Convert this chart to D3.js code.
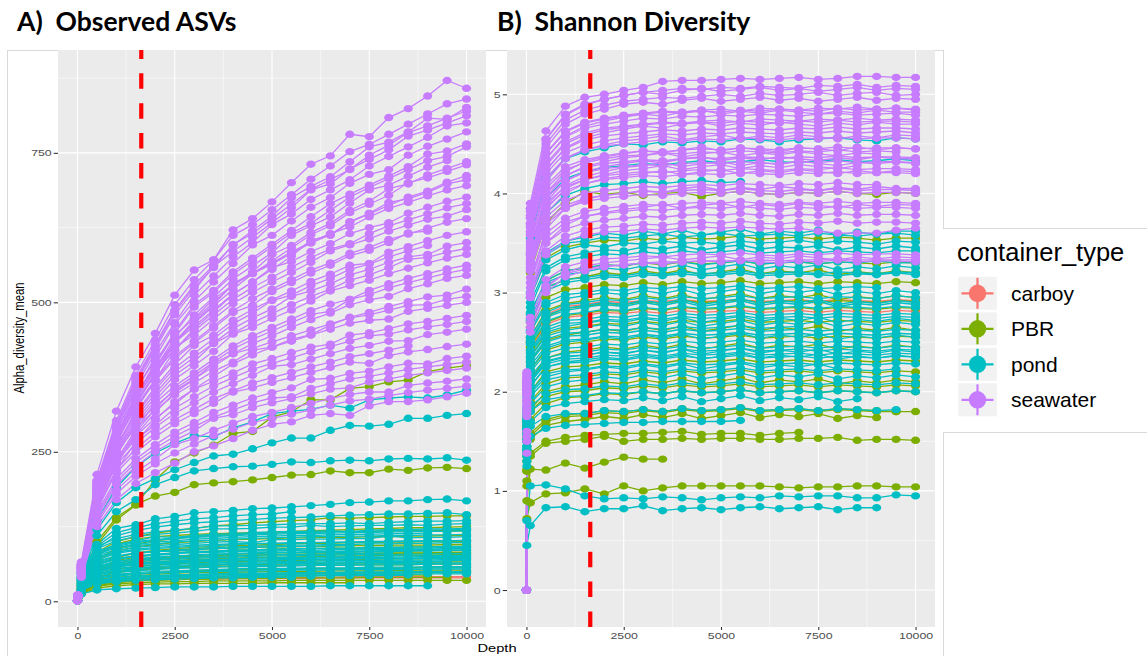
<!DOCTYPE html>
<html>
<head>
<meta charset="utf-8">
<script src="https://cdn.jsdelivr.net/npm/d3@7"></script>
<style>
  body { margin: 0; background: #fff; }
  svg { display: block; font-family: "Liberation Sans", Arial, sans-serif; }
</style>
</head>
<body>
<svg id="chart" width="1147" height="656"></svg>
<script>
// rarefaction depths (reads per sample)
const depths = [1, 10, 100, 500, 1000, 1500, 2000, 2500, 3000, 3500, 4000, 4500, 5000, 5500, 6000, 6500, 7000, 7500, 8000, 8500, 9000, 9500, 10000];
const containerTypes = ["carboy", "PBR", "pond", "seawater"];
const typeColours = ["#F8766D", "#7CAE00", "#00BFC4", "#C77CFF"];
const rarefyCut = 1640;
const xTicks = [0, 2500, 5000, 7500, 10000];
const xMinor = [1250, 3750, 6250, 8750];
const observedTicks = [0, 250, 500, 750];
const observedMinor = [125, 375, 625, 875];
const shannonTicks = [0, 1, 2, 3, 4, 5];
const shannonMinor = [0.5, 1.5, 2.5, 3.5, 4.5];

// Observed ASVs, mean per depth, one row per sample
const carboyObserved = [
  [1,7,20,33,36,37,38,38,39,39,39,40,40,40,40,40,41,41,41,41,41,41,41],
  [1,7,19,31,34,35,36,37,37,37,38,38,38,38,38,39,39,39,39,39,39,39,39]
];
const pbrObserved = [
  [1,9,38,95,136,161,203,233,248,261,281,284,308,317,337,337,356,359,367,370,384,390,394],
  [1,9,36,100,140,162,176,182,195,198,200,203,207,211,212,218,215,215,221,219,223,224,222],
  [1,9,34,82,100,108,114,118,122,126,128,131,133,135,136,140,139,140,141,142,142,143,143],
  [1,8,30,70,88,96,101,105,108,110,112,114,115,117,118,119,120,121,122,123,123,124,125],
  [1,8,28,60,74,81,85,88,90,92,93,94,95,96,97,97,98,98,99,99,100,100,100],
  [1,8,26,55,68,74,78,81,83,84,85,86,87,88,88,89,89,90,90,91,91,92,92],
  [1,8,25,52,63,69,72,75,77,78,79,80,81,81,82,82,83,83,84,84,85,85,85],
  [1,8,23,48,58,63,66,68,70,71,72,73,74,74,75,75,76,76,77,77,77,78,78],
  [1,7,22,44,54,58,61,63,64,66,66,67,68,68,69,69,70,70,71,71,71,72,72],
  [1,7,20,40,49,53,56,58,59,60,61,61,62,62,63,63,64,64,64,65,65,66,66],
  [1,7,18,35,43,46,48,50,51,52,53,53,54,54,55,55,55,56,56,56,57,57,57],
  [1,7,16,30,37,40,42,43,44,44,45,45,46,46,46,47,47,47,47,48,48,48,48],
  [1,6,14,26,31,34,35,36,37,37,38,38,38,39,39,39,39,40,40,40,40,40],
  [1,6,13,22,26,28,29,29,30,30,30,30,31,31,31,31,31],
  [1,6,14,25,29,31,32,33,33,34,34,34,34,35,35,35,35,35,35,35,35,35,35],
  [1,6,15,28,33,35,36,37,37,38],
  [1,8,24,50,60,66,69,72,74,75,76,77,78,78,79,79,80,80,81,81,81,82,82],
  [1,8,30,68,84,91,95,98,100,102,103,104,105,106,106,107,107,108,108,109,109,110,110],
  [1,8,30,62,74,80,83,85,87,88,89,90,91,91,92,92,93,93,94,94,94,95,95],
  [1,8,26,54,64,69,72,74,75,76,77,77,78,78,79,79,79,80,80,80,80,80,80],
  [1,7,20,40,48,52,54,56,57,58,58,59,59,60,60,60,61,61,61,61,62,62,62],
  [1,7,17,33,40,43,45,47,48,48,49,49,50,50,50,51,51,51,51,52,52,52,52],
  [1,9,34,78,96,104,108,110,112,113,114,115,115,116,116,117,117,117,118,118,118,118,118],
  [1,6,15,28,34,37,38,39,40,41,41,42,42,42,43,43,43,43,44,44,44]
];
const pondObserved = [
  [1,9,48,135,190,225,248,264,277,275,290,300,314,318,321,328,323,337,340,342,340,345,353],
  [1,9,42,120,165,190,205,220,232,243,246,255,265,273,273,286,294,293,296,306,306,311,314],
  [1,9,40,110,150,170,195,207,218,222,225,226,229,233,232,235,236,235,238,239,238,240,236],
  [1,9,38,95,122,128,138,142,148,150,152,155,156,158,160,162,165,166,168,168,170,171,168],
  [1,9,36,88,110,118,124,128,131,133,135,137,139,140,141,143,144,145,146,146,147,148,145],
  [1,9,38,92,115,123,130,134,138,140,143,145,146,150],
  [1,9,52,88,101,108,112,114,117,121,121,122,124,124,127,125,126,127,127,128,127,129,130],
  [1,9,49,83,95,101,108,107,110,112,113,115,116,117,117,118,116,119,120,120,121,121,122],
  [1,9,46,78,90,95,99,101,104,105,107,108,109,110,110,111,112,112,113,113,114],
  [1,9,43,73,84,90,93,95,97,99,100,98,103,103,104,104,105,105,109,106,107,107,108],
  [1,9,41,69,80,85,88,90,92,93,95,96,97,97,98,98,99,99,100,100,101,101,102],
  [1,8,38,65,75,80,83,84,86,88,89,90,91,92,92,93,93],
  [1,8,36,61,70,75,77,79,84,82,84,85,86,86,89,87,87,88,88,89,89,90,90],
  [1,8,34,58,66,71,73,75,77,78,79,80,81,81,82,82,82,83,83,84,84,85,85],
  [1,8,32,54,62,66,69,70,72,73,74,75,76,76,77,77,78,78,78,79,79,80,80],
  [1,8,30,51,58,62,64,66,68,69,70,71,71,72,72,73,73,73,74,74,75,75,75],
  [1,8,28,48,55,58,60,62,63,64,65,66,66,67,67,68,68,68,69,69,69,70,70],
  [1,8,27,45,51,55,57,58,60,61,62,62,63,63,64,64,64,65,65,65,66,66],
  [1,8,25,42,48,51,53,55,56,57,58,58,59,59,60,60,60,61,61,61,62,62,62],
  [1,8,24,40,45,48,50,51,52,53,54,55,55,55,56,56,56,57,57,57,58,58,58],
  [1,7,22,37,42,45,47,48,49,50,50,51,51,52,52,52,53,53,53,53,54,54,54],
  [1,7,21,34,39,42,43,44,45,46,47,47,47,48,48,48,49,49,49,49,50,50],
  [1,7,19,31,36,38,40,41,42,42,43,43,44,44,44,44,45,45,45,45,46,46,46],
  [1,7,18,29,33,35,36,37,38,39,39,40,40,40],
  [1,7,20,34,39,42,43,44,45,45,46,46,47,47,47,48,48,48,48,49,49,49,50],
  [1,6,12,19,21,22,23,24,24,24,25,25,25,25,25,26,26,26,26,26,26],
  [1,9,40,72,82,87,90,92,94,95,96,97,97,98,98,99,99,100,100,101,101,101,102],
  [1,8,35,62,71,75,78,80,81,82,83,84,84,85,85,86,86,86,87,87,87,88,88],
  [1,8,29,51,58,62,64,66,67,68,68,69,69,70,70,70,71,71,71,71,72,72,72],
  [1,9,47,80,92,98,102,105,107,108,110,111,112,113,113,114,115,115,116,116,117,117,118],
  [1,9,54,92,105,112,116,119,122,126,126,127,128,129,130,130,131,130,132,133,134,134,135],
  [1,9,45,76,87,93,96,99,101,102,104,105,106,107,108,108,109,109,110,110,111,111,112],
  [1,9,39,67,76,81,84,86,88,90,91,92,93,94,94,95,95,96,96,97,97,98,98],
  [1,8,37,63,72,76,79,81,83,84,86,86,87,88,88,89,89,90,90,91,91,92,92],
  [1,8,34,58,67,71,74,76,77,79,80,81,82,82,83,83,84,84,85,85,86,86,86],
  [1,8,33,56,64,68,71,72,74,75,76,77,78,78,79,79,80,80,81],
  [1,8,31,52,60,64,66,68,69,70,71,72,73,73,74,74,75,75,76,76,76,77,77],
  [1,8,29,50,57,61,63,64,66,67,68,69,69,70,70,71,71,72,72,72,73,73,73],
  [1,8,27,46,53,56,58,60,61,62,63,64,64,65,65,66,66,66,67,67,67,68,68],
  [1,8,26,44,50,53,55,56,57,58,59,60,60,61,61,62,62,62,63,63,63,64,64],
  [1,7,22,38,44,46,48,49,50,51,52,52,53,53,54,54,54,55,55,55,56,56,56],
  [1,7,19,33,37,40,41,42,43,44,45,45,45,46,46,46,47,47,47,47,48,48,48],
  [1,7,18,30,34,37,38,39,40,40,41,41,42,42,42,43,43,43,43,44],
  [1,9,48,82,94,100,103,106,108,110,111,113,114,115,115,116,117,117,118,119,119,120,120]
];
const seawaterObserved = [
  [1,10,66,212,318,392,448,512,554,571,621,640,668,700,731,745,781,777,809,824,845,871,858],
  [1,10,63,202,302,378,437,496,538,571,612,630,655,680,706,728,752,764,781,798,815,832,840],
  [1,10,62,198,297,372,430,487,529,562,595,620,644,675,694,710,735,760,768,785,808,806,826],
  [1,10,61,195,292,365,422,479,520,560,585,609,633,658,688,698,723,739,755,778,788,800,812],
  [1,10,60,192,288,360,416,466,512,544,576,600,630,648,672,688,705,728,744,760,776,795,800],
  [1,10,59,188,283,353,408,463,502,534,565,596,612,636,659,675,699,714,722,746,761,773,785],
  [1,10,57,184,275,344,398,451,496,520,551,574,597,620,643,665,681,696,711,727,748,753,765],
  [1,10,56,180,269,337,389,441,479,509,539,561,583,612,628,643,666,688,696,711,726,737],
  [1,10,55,175,263,329,380,431,467,496,532,548,569,591,613,628,650,664,679,700,708,719,730],
  [1,10,53,171,256,320,370,420,456,484,513,534,555,577,604,612,634,648,662,676,686,701,712],
  [1,10,63,202,292,354,403,445,473,506,528,549,566,584,601,615,626,643,657,667,678,688,695],
  [1,10,61,196,284,345,392,433,460,487,514,534,558,568,585,598,615,625,633,649,659,669,676],
  [1,10,59,190,275,334,380,425,445,472,498,517,534,550,567,586,596,606,619,629,639,644,655],
  [1,10,57,184,267,324,368,406,432,457,483,495,518,533,549,562,578,587,600,616,619],
  [1,9,56,179,260,315,358,396,428,445,470,488,504,519,535,547,562,565,584,593,603,612,618],
  [1,9,54,174,252,306,348,384,408,432,456,474,489,510,519,531,546,555,567,576,580,594,600],
  [1,9,52,168,244,296,336,371,394,418,447,458,473,487,502,519,528,537,548,557,566,574,580],
  [1,9,51,163,236,287,332,360,382,405,427,444,458,472,486,497,505,520,531,540,548,556,562],
  [1,9,49,158,229,278,316,349,371,398,414,431,444,458,471,482,496,504,510,523,531,540,545],
  [1,9,47,151,219,266,303,334,355,376,397,412,425,438,446,462,475,483,493,501,509,512,522],
  [1,9,60,180,250,290,320,345,365,385,400,420,425,435,445,455,465,470,472,485,490,495,500],
  [1,9,57,172,239,277,306,330,355,368,382,397,406,416,425,430,445,449,456,464,468,473,478],
  [1,9,55,164,228,264,291,314,332,350,364,378,393,396,405,414,423,428,435,436,446,450,455],
  [1,9,52,155,215,249,275,297,314,331,350,357,366,374,383,391,400,398,411,417,421,426,430],
  [1,9,49,148,205,238,262,283,299,316,328,340,349,357,371,373,381,385,392,398,397,406,410],
  [1,8,47,140,195,226,250,269,285,306,312,324,332,339,347,355,357,367,372,378,382,386,390],
  [1,8,45,134,186,216,238,262,272,286,298,309,316,324,331,339,346,350,350,361,365,368,372],
  [1,8,40,125,170,197,215,231,250,260,272,286,296,300,311,314,311,327,334,334,337,342,348],
  [1,10,62,197,295,369,426,484,525,558,597,615,640,664,689,705,722,746,763,784,795,808,820],
  [1,10,57,182,274,342,395,448,492,517,547,570,593,616,632,654,676,692,707,722,737,744,760],
  [1,10,58,187,275,338,388,434,465,494,522,548,564,582,599,613,635,649,667,673,684,698,705],
  [1,10,60,193,279,339,386,420,452,479,505,525,542,559,575,589,598,615,628,638,648,658,665],
  [1,9,55,177,256,311,354,390,415,439,464,482,503,512,528,540,555,564,576,586,595],
  [1,9,53,171,248,301,342,378,401,431,448,466,481,496,510,522,537,546,558,572,575,584,590],
  [1,9,50,161,233,283,322,355,377,400,422,438,452,466,480,485,505,513,524,533,541,549,555],
  [1,9,61,184,255,296,326,352,372,393,414,423,434,444,454,464,474,479,487,495,496,505,510],
  [1,9,56,168,234,271,295,323,342,360,374,388,398,407,417,426,435,444,447,454,459,463,468],
  [1,9,53,158,220,255,282,304,321,339,352,365,374,383,392,400,409,414,420,427],
  [1,8,48,144,200,232,256,276,292,308,320,332,340,342,356,364,372,376,382,388,392,396,400],
  [1,8,43,130,180,209,230,248,263,277,288,299,306,313,320,328,335,338,344,349,353,356,360],
  [1,10,55,176,265,331,382,434,470,500,529,551,580,595,617,632,654,669,690,698,713,724,735],
  [1,10,58,186,269,326,371,410,435,461,486,506,522,538,554,566,582,592,605,614,624,634,640]
];

// Shannon diversity, mean per depth, same samples in the same order
const carboyShannon = [
  [0,1.65,2.5,2.78,2.86,2.88,2.91,2.9,2.92,2.91,2.93,2.91,2.92,2.93,2.91,2.92,2.93,2.91,2.93,2.92,2.91,2.93,2.92],
  [0,1.6,2.42,2.68,2.75,2.77,2.8,2.79,2.81,2.79,2.82,2.8,2.81,2.82,2.8,2.81,2.82,2.8,2.82,2.81,2.8,2.82,2.81]
];
const pbrShannon = [
  [0,1.9,3.2,3.7,3.9,4.02,3.99,4.01,3.98,4.0,4.01,3.97,4.0,4.02,4.0,3.99,4.01,4.0,4.02,4.0,3.99,4.01,4.0],
  [0,1.82,2.95,3.35,3.46,3.5,3.53,3.52,3.55,3.53,3.56,3.54,3.55,3.57,3.54,3.55,3.56,3.54,3.56,3.55,3.53,3.55,3.55],
  [0,1.7,2.65,2.95,3.03,3.05,3.08,3.07,3.1,3.08,3.11,3.09,3.1,3.12,3.09,3.1,3.11,3.09,3.11,3.1,3.09,3.11,3.1],
  [0,1.75,2.78,3.12,3.22,3.25,3.28,3.27,3.3,3.28,3.31,3.29,3.3,3.32,3.29,3.3,3.31,3.29,3.31,3.3,3.29,3.31,3.3],
  [0,1.65,2.5,2.76,2.84,2.86,2.89,2.88,2.91,2.89,2.92,2.9,2.91,2.93,2.9,2.91,2.92,2.9,2.92,2.91,2.9,2.92,2.91],
  [0,1.6,2.35,2.58,2.64,2.66,2.69,2.68,2.71,2.69,2.72,2.7,2.71,2.73,2.7,2.71,2.72,2.7,2.72,2.71,2.7,2.72,2.71],
  [0,1.45,2.0,2.2,2.25,2.26,2.29,2.28,2.31,2.29,2.32,2.3,2.31,2.33,2.3,2.31,2.32,2.3,2.32,2.31,2.3,2.32,2.31],
  [0,1.35,1.8,1.95,2.0,2.01,2.04,2.03,2.06,2.04,2.07,2.05,2.06,2.08,2.05,2.06,2.07,2.05,2.07,2.06,2.05,2.07,2.06],
  [0,1.3,1.72,1.88,1.94,1.95,1.98,1.97,2.0,1.98,2.01,1.99,2.0,2.02,1.99,2.0,2.01,1.99,2.01,2.0,1.99,2.01,2.0],
  [0,1.2,1.55,1.7,1.75,1.76,1.79,1.78,1.81,1.79,1.82,1.8,1.81,1.83,1.8,1.81,1.82,1.8,1.82,1.81,1.8,1.8,1.8],
  [0,1.05,1.35,1.48,1.5,1.52,1.55,1.5,1.52,1.52,1.53,1.52,1.53,1.53,1.52,1.52,1.53,1.53,1.54,1.51,1.52,1.52,1.51],
  [0,1.4,1.9,2.08,2.14,2.15,2.18,2.17,2.2,2.18,2.21,2.19,2.2,2.22,2.19,2.2,2.21,2.19,2.21,2.2,2.19,2.21,2.2],
  [0,1.22,1.58,1.72,1.77,1.78,1.81,1.8,1.82,1.8,1.83,1.81,1.82,1.84,1.81,1.82,1.83,1.81,1.83,1.82,1.81,1.8],
  [0,1.1,1.38,1.5,1.54,1.56,1.57,1.58,1.58,1.59,1.6,1.57,1.58,1.58,1.56,1.58,1.59],
  [0,0.72,0.88,0.97,0.98,1.02,0.97,1.05,1.0,1.03,1.05,1.05,1.05,1.05,1.05,1.04,1.03,1.04,1.04,1.05,1.05,1.04,1.04],
  [0,0.9,1.22,1.21,1.28,1.23,1.29,1.34,1.32,1.32],
  [0,1.55,2.22,2.42,2.48,2.5,2.53,2.52,2.55,2.53,2.56,2.54,2.55,2.57,2.54,2.55,2.56,2.54,2.56,2.55,2.54,2.56,2.55],
  [0,1.64,2.45,2.7,2.77,2.79,2.82,2.81,2.84,2.82,2.85,2.83,2.84,2.86,2.83,2.84,2.85,2.83,2.85,2.84,2.83,2.85,2.84],
  [0,1.6,2.3,2.52,2.57,2.6,2.63,2.61,2.65,2.62,2.66,2.61,2.64,2.67,2.62,2.65,2.63,2.66,2.61,2.64,2.62,2.65,2.62],
  [0,1.68,2.55,2.82,2.89,2.92,2.95,2.93,2.97,2.94,2.98,2.93,2.96,2.99,2.94,2.97,2.95,2.98,2.93,2.96,2.94,2.97,2.95],
  [0,1.52,2.12,2.34,2.4,2.42,2.45,2.43,2.47,2.44,2.48,2.43,2.46,2.49,2.44,2.47,2.45,2.48,2.43,2.46,2.44,2.47,2.45],
  [0,1.38,1.82,2.0,2.05,2.07,2.1,2.08,2.12,2.09,2.13,2.08,2.11,2.14,2.09,2.12,2.1,2.13,2.08,2.11,2.09,2.12,2.1],
  [0,1.72,2.7,3.05,3.13,3.16,3.2,3.18,3.22,3.19,3.23,3.18,3.21,3.24,3.19,3.22,3.2,3.23,3.18,3.21,3.19,3.22,3.2],
  [0,1.2,1.52,1.66,1.7,1.72,1.75,1.73,1.77,1.74,1.78,1.73,1.76,1.79,1.74,1.77,1.75,1.78,1.73,1.76,1.74]
];
const pondShannon = [
  [0,2.05,3.55,4.15,4.35,4.42,4.46,4.5,4.49,4.52,4.51,4.53,4.52,4.55,4.54,4.52,4.54,4.55,4.56,4.54,4.53,4.56,4.55],
  [0,2.0,3.4,3.95,4.15,4.22,4.26,4.28,4.3,4.29,4.31,4.33,4.31,4.32,4.34,4.32,4.31,4.33,4.34,4.32,4.33,4.35,4.33],
  [0,1.85,3.0,3.38,3.5,3.52,3.56,3.55,3.57,3.59,3.56,3.58,3.6,3.57,3.58,3.59,3.57,3.6,3.58,3.57,3.59,3.6,3.58],
  [0,1.8,2.95,3.33,3.43,3.48,3.46,3.5,3.49,3.52,3.5,3.51,3.49,3.52,3.5,3.51,3.53,3.5,3.52,3.51,3.49,3.52,3.51],
  [0,1.75,2.8,3.12,3.22,3.25,3.28,3.27,3.3,3.29,3.31,3.28,3.3,3.32,3.29,3.3,3.31,3.29,3.31,3.3,3.32,3.3,3.3],
  [0,1.95,3.3,3.8,3.98,4.05,4.09,4.1,4.12,4.1,4.12,4.13,4.11,4.12],
  [0,1.72,2.72,3.02,3.1,3.13,3.16,3.15,3.18,3.17,3.19,3.17,3.18,3.2,3.17,3.18,3.19,3.18,3.17,3.19,3.18,3.2,3.18],
  [0,1.68,2.55,2.8,2.88,2.9,2.93,2.92,2.95,2.93,2.96,2.94,2.95,2.97,2.94,2.95,2.96,2.94,2.96,2.95,2.94,2.97,2.95],
  [0,1.7,2.62,2.9,2.98,3.0,3.03,3.02,3.05,3.04,3.06,3.04,3.05,3.07,3.04,3.05,3.06,3.04,3.05,3.06,3.05],
  [0,1.66,2.48,2.71,2.78,2.8,2.83,2.82,2.85,2.83,2.86,2.84,2.85,2.87,2.84,2.85,2.86,2.84,2.86,2.85,2.84,2.86,2.85],
  [0,1.62,2.4,2.62,2.69,2.7,2.73,2.72,2.75,2.73,2.76,2.74,2.75,2.77,2.74,2.75,2.76,2.74,2.76,2.75,2.74,2.76,2.75],
  [0,1.6,2.32,2.53,2.59,2.6,2.63,2.62,2.65,2.63,2.66,2.64,2.65,2.67,2.64,2.65,2.66],
  [0,1.58,2.26,2.46,2.52,2.53,2.56,2.55,2.58,2.56,2.59,2.57,2.58,2.6,2.57,2.58,2.59,2.57,2.59,2.58,2.57,2.59,2.58],
  [0,1.55,2.2,2.39,2.44,2.45,2.48,2.47,2.5,2.48,2.51,2.49,2.5,2.52,2.49,2.5,2.51,2.49,2.51,2.5,2.49,2.51,2.5],
  [0,1.52,2.12,2.31,2.36,2.37,2.4,2.39,2.42,2.4,2.43,2.41,2.42,2.44,2.41,2.42,2.43,2.41,2.43,2.42,2.41,2.43,2.42],
  [0,1.5,2.06,2.25,2.29,2.3,2.33,2.32,2.35,2.33,2.36,2.34,2.35,2.37,2.34,2.35,2.36,2.34,2.36,2.35,2.34,2.36,2.35],
  [0,1.45,2.0,2.18,2.22,2.23,2.26,2.25,2.28,2.26,2.29,2.27,2.28,2.3,2.27,2.28,2.29,2.27,2.29,2.28,2.27,2.29,2.28],
  [0,1.42,1.95,2.12,2.16,2.17,2.2,2.19,2.22,2.2,2.23,2.21,2.22,2.24,2.21,2.22,2.23,2.21,2.23,2.22,2.21,2.23],
  [0,1.6,2.3,2.5,2.56,2.57,2.6,2.59,2.62,2.6,2.63,2.61,2.62,2.64,2.61,2.62,2.63,2.61,2.63,2.62,2.61,2.63,2.62],
  [0,1.4,1.85,1.98,2.02,2.03,2.06,2.05,2.08,2.06,2.09,2.07,2.08,2.1,2.07,2.08,2.09,2.07,2.09,2.08,2.07,2.09,2.08],
  [0,1.5,2.15,2.34,2.39,2.4,2.43,2.42,2.45,2.43,2.46,2.44,2.45,2.47,2.44,2.45,2.46,2.44,2.46,2.45,2.44,2.46,2.45],
  [0,1.3,1.65,1.75,1.78,1.78,1.81,1.8,1.82,1.8,1.83,1.81,1.82,1.84,1.81,1.82,1.83,1.81,1.83,1.82,1.81,1.82],
  [0,1.38,1.8,1.92,1.95,1.96,1.99,1.98,2.0,1.98,2.01,1.99,2.0,2.02,1.99,2.0,2.01,1.99,2.01,2.0,1.99,2.01,2.0],
  [0,1.25,1.55,1.63,1.66,1.67,1.68,1.69,1.69,1.7,1.7,1.7,1.7,1.71],
  [0,0.7,1.05,1.06,1.02,0.95,0.92,0.93,0.92,0.94,0.93,0.91,0.93,0.94,0.93,0.95,0.94,0.95,0.95,0.93,0.93,0.96,0.95],
  [0,0.45,0.65,0.83,0.84,0.79,0.82,0.82,0.85,0.8,0.82,0.83,0.81,0.83,0.84,0.82,0.83,0.84,0.81,0.83,0.83],
  [0,1.78,2.85,3.22,3.33,3.36,3.39,3.38,3.41,3.39,3.42,3.4,3.41,3.43,3.4,3.41,3.42,3.4,3.42,3.41,3.4,3.42,3.42],
  [0,1.63,2.42,2.65,2.72,2.73,2.76,2.75,2.78,2.76,2.79,2.77,2.78,2.8,2.77,2.78,2.79,2.77,2.79,2.78,2.77,2.79,2.78],
  [0,1.5,2.1,2.28,2.33,2.34,2.37,2.36,2.38,2.36,2.39,2.37,2.38,2.4,2.37,2.38,2.39,2.37,2.39,2.38,2.37,2.39,2.38],
  [0,1.74,2.74,3.05,3.13,3.15,3.18,3.17,3.2,3.18,3.21,3.19,3.2,3.22,3.19,3.2,3.21,3.19,3.21,3.2,3.19,3.21,3.2],
  [0,1.8,2.9,3.25,3.36,3.4,3.43,3.42,3.46,3.44,3.47,3.43,3.46,3.48,3.44,3.46,3.45,3.47,3.43,3.46,3.44,3.47,3.45],
  [0,1.62,2.35,2.56,2.62,2.65,2.68,2.66,2.7,2.67,2.71,2.66,2.69,2.72,2.67,2.7,2.68,2.71,2.66,2.69,2.67,2.7,2.68],
  [0,1.7,2.6,2.87,2.94,2.97,3.0,2.98,3.02,2.99,3.03,2.98,3.01,3.04,2.99,3.02,3.0,3.03,2.98,3.01,2.99,3.02,3.0],
  [0,1.5,2.1,2.3,2.35,2.37,2.4,2.38,2.42,2.39,2.43,2.38,2.41,2.44,2.39,2.42,2.4,2.43,2.38,2.41,2.39,2.42,2.4],
  [0,1.66,2.5,2.75,2.82,2.85,2.88,2.86,2.9,2.87,2.91,2.86,2.89,2.92,2.87,2.9,2.88,2.91,2.86,2.89,2.87,2.9,2.88],
  [0,1.45,1.98,2.15,2.2,2.22,2.25,2.23,2.27,2.24,2.28,2.23,2.26,2.29,2.24,2.27,2.25,2.28,2.23],
  [0,1.62,2.38,2.6,2.66,2.69,2.72,2.7,2.74,2.71,2.75,2.7,2.73,2.76,2.71,2.74,2.72,2.75,2.7,2.73,2.71,2.74,2.72],
  [0,1.75,2.78,3.1,3.18,3.21,3.25,3.23,3.27,3.24,3.28,3.23,3.26,3.29,3.24,3.27,3.25,3.28,3.23,3.26,3.24,3.27,3.25],
  [0,1.56,2.22,2.44,2.5,2.52,2.55,2.53,2.57,2.54,2.58,2.53,2.56,2.59,2.54,2.57,2.55,2.58,2.53,2.56,2.54,2.57,2.55],
  [0,1.5,2.05,2.25,2.3,2.32,2.35,2.33,2.37,2.34,2.38,2.33,2.36,2.39,2.34,2.37,2.35,2.38,2.33,2.36,2.34,2.37,2.35],
  [0,1.42,1.88,2.05,2.1,2.12,2.15,2.13,2.17,2.14,2.18,2.13,2.16,2.19,2.14,2.17,2.15,2.18,2.13,2.16,2.14,2.17,2.15],
  [0,1.68,2.52,2.77,2.84,2.87,2.9,2.88,2.92,2.89,2.93,2.88,2.91,2.94,2.89,2.92,2.9,2.93,2.88,2.91,2.89,2.92,2.9],
  [0,1.35,1.7,1.84,1.88,1.9,1.92,1.91,1.94,1.91,1.95,1.9,1.93,1.96,1.91,1.94,1.92,1.95,1.9,1.93],
  [0,1.84,3.0,3.4,3.52,3.56,3.6,3.58,3.62,3.59,3.63,3.58,3.61,3.64,3.59,3.62,3.6,3.63,3.58,3.61,3.59,3.62,3.62]
];
const seawaterShannon = [
  [0,2.2,3.9,4.63,4.88,4.97,5.0,5.04,5.07,5.13,5.14,5.14,5.15,5.16,5.15,5.16,5.17,5.15,5.16,5.18,5.18,5.17,5.17],
  [0,2.18,3.85,4.55,4.8,4.9,4.95,4.99,5.02,5.04,5.06,5.05,5.07,5.06,5.08,5.07,5.06,5.09,5.08,5.1,5.07,5.09,5.08],
  [0,2.15,3.82,4.5,4.74,4.84,4.89,4.93,4.95,4.97,4.96,4.98,5.0,4.98,5.01,4.99,5.0,5.02,4.99,5.01,5.02,4.99,5.0],
  [0,2.12,3.75,4.4,4.62,4.71,4.75,4.78,4.8,4.82,4.81,4.83,4.82,4.84,4.83,4.85,4.84,4.83,4.86,4.84,4.85,4.86,4.84],
  [0,2.1,3.7,4.35,4.57,4.66,4.7,4.73,4.76,4.75,4.78,4.77,4.79,4.78,4.8,4.79,4.78,4.8,4.81,4.79,4.8,4.81,4.79],
  [0,2.1,3.68,4.3,4.52,4.61,4.66,4.68,4.7,4.72,4.71,4.73,4.74,4.72,4.75,4.74,4.73,4.75,4.74,4.76,4.74,4.75,4.74],
  [0,2.08,3.6,4.2,4.41,4.49,4.53,4.56,4.58,4.6,4.59,4.61,4.6,4.62,4.61,4.6,4.62,4.61,4.63,4.61,4.62,4.63,4.61],
  [0,2.05,3.5,4.05,4.24,4.31,4.35,4.38,4.39,4.41,4.4,4.42,4.41,4.43,4.42,4.41,4.43,4.42,4.44,4.42,4.43,4.42],
  [0,2.02,3.45,4.0,4.18,4.26,4.3,4.32,4.34,4.33,4.35,4.36,4.35,4.37,4.36,4.35,4.37,4.36,4.38,4.36,4.37,4.37,4.36],
  [0,2.0,3.42,3.95,4.13,4.21,4.25,4.27,4.29,4.28,4.3,4.31,4.3,4.32,4.31,4.3,4.32,4.31,4.33,4.31,4.32,4.32,4.31],
  [0,1.98,3.38,3.9,4.07,4.14,4.18,4.2,4.22,4.21,4.23,4.24,4.23,4.25,4.24,4.23,4.25,4.24,4.26,4.24,4.25,4.25,4.24],
  [0,2.12,3.76,4.41,4.63,4.72,4.76,4.79,4.81,4.83,4.82,4.84,4.85,4.83,4.86,4.85,4.84,4.86,4.85,4.87,4.85,4.86,4.85],
  [0,2.09,3.66,4.28,4.5,4.59,4.64,4.67,4.69,4.71,4.7,4.72,4.71,4.73,4.72,4.71,4.73,4.72,4.74,4.72,4.73,4.73,4.72],
  [0,1.92,3.28,3.76,3.93,4.0,4.03,4.05,4.07,4.06,4.08,4.09,4.08,4.1,4.09,4.08,4.1,4.09,4.11,4.09,4.09],
  [0,1.9,3.25,3.72,3.88,3.95,3.98,4.0,4.02,4.01,4.03,4.04,4.03,4.05,4.03,4.02,4.04,4.03,4.05,4.03,4.04,4.04,4.03],
  [0,2.06,3.58,4.15,4.36,4.44,4.48,4.5,4.52,4.54,4.53,4.55,4.54,4.56,4.55,4.54,4.56,4.55,4.57,4.55,4.56,4.56,4.55],
  [0,1.85,3.15,3.6,3.75,3.82,3.85,3.87,3.89,3.88,3.9,3.91,3.9,3.92,3.9,3.89,3.91,3.9,3.92,3.9,3.91,3.91,3.9],
  [0,1.82,3.1,3.55,3.71,3.77,3.8,3.82,3.84,3.83,3.85,3.86,3.85,3.87,3.85,3.84,3.86,3.85,3.87,3.85,3.86,3.86,3.85],
  [0,1.8,3.05,3.5,3.64,3.7,3.73,3.75,3.77,3.76,3.78,3.79,3.78,3.8,3.78,3.77,3.79,3.78,3.8,3.78,3.79,3.79,3.78],
  [0,1.75,2.95,3.38,3.52,3.58,3.61,3.62,3.64,3.63,3.65,3.66,3.65,3.66,3.65,3.64,3.65,3.62,3.6,3.6,3.6,3.63,3.65],
  [0,2.03,3.52,4.08,4.27,4.34,4.38,4.41,4.43,4.42,4.44,4.45,4.44,4.46,4.45,4.44,4.46,4.45,4.47,4.45,4.46,4.46,4.45],
  [0,1.6,2.75,3.13,3.26,3.31,3.34,3.35,3.37,3.36,3.38,3.39,3.38,3.4,3.38,3.37,3.39,3.38,3.4,3.38,3.39,3.39,3.38],
  [0,1.96,3.35,3.86,4.03,4.1,4.14,4.16,4.18,4.17,4.19,4.2,4.19,4.21,4.2,4.19,4.21,4.2,4.22,4.2,4.21,4.21,4.2],
  [0,1.55,2.7,3.07,3.19,3.24,3.27,3.28,3.3,3.29,3.31,3.32,3.31,3.33,3.31,3.3,3.32,3.31,3.33,3.31,3.32,3.32,3.31],
  [0,1.88,3.22,3.69,3.85,3.92,3.95,3.97,3.99,3.98,4.0,4.01,4.0,4.02,4.0,3.99,4.01,4.0,4.02,4.0,4.01,4.01,4.0],
  [0,1.78,3.0,3.42,3.57,3.63,3.66,3.67,3.69,3.68,3.7,3.71,3.7,3.72,3.7,3.69,3.71,3.7,3.72,3.7,3.71,3.71,3.7],
  [0,2.08,3.62,4.24,4.45,4.54,4.58,4.6,4.62,4.64,4.63,4.65,4.64,4.66,4.65,4.64,4.66,4.65,4.67,4.65,4.66,4.66,4.65],
  [0,1.38,2.6,3.0,3.16,3.22,3.26,3.28,3.3,3.31,3.31,3.32,3.32,3.32,3.33,3.32,3.33,3.33,3.34,3.33,3.33,3.33,3.33],
  [0,2.15,3.78,4.46,4.7,4.8,4.85,4.9,4.92,4.9,4.94,4.96,4.93,4.95,4.97,4.94,4.96,4.93,4.95,4.97,4.94,4.96,4.95],
  [0,2.04,3.4,4.0,4.22,4.32,4.37,4.4,4.43,4.41,4.44,4.47,4.43,4.46,4.44,4.42,4.46,4.45,4.43,4.47,4.44,4.46,4.45],
  [0,2.0,3.3,3.87,4.08,4.17,4.22,4.26,4.28,4.31,4.27,4.3,4.32,4.28,4.31,4.29,4.33,4.3,4.28,4.31,4.3,4.32,4.3],
  [0,2.12,3.7,4.35,4.58,4.68,4.73,4.77,4.8,4.78,4.82,4.84,4.8,4.83,4.81,4.84,4.82,4.8,4.83,4.81,4.84,4.82,4.82],
  [0,2.02,3.38,3.96,4.18,4.27,4.32,4.36,4.38,4.41,4.37,4.4,4.42,4.38,4.41,4.39,4.42,4.4,4.38,4.41,4.4],
  [0,1.98,3.22,3.8,4.0,4.1,4.15,4.18,4.2,4.23,4.19,4.22,4.24,4.2,4.23,4.21,4.24,4.22,4.2,4.23,4.21,4.23,4.22],
  [0,2.1,3.58,4.23,4.46,4.56,4.61,4.65,4.68,4.66,4.7,4.72,4.68,4.71,4.69,4.72,4.7,4.68,4.71,4.69,4.72,4.7,4.7],
  [0,2.02,3.32,3.91,4.13,4.22,4.27,4.3,4.33,4.31,4.35,4.37,4.33,4.36,4.34,4.37,4.35,4.33,4.36,4.34,4.37,4.35,4.35],
  [0,1.92,3.1,3.64,3.85,3.94,3.98,4.0,4.03,4.01,4.05,4.07,4.03,4.06,4.04,4.07,4.05,4.03,4.06,4.04,4.07,4.05,4.05],
  [0,1.98,3.25,3.84,4.05,4.14,4.19,4.23,4.25,4.28,4.24,4.27,4.29,4.25,4.28,4.26,4.29,4.27,4.25,4.28],
  [0,1.85,2.98,3.5,3.68,3.77,3.81,3.84,3.86,3.89,3.85,3.88,3.9,3.86,3.89,3.87,3.9,3.88,3.86,3.89,3.87,3.89,3.88],
  [0,1.5,2.65,3.05,3.2,3.27,3.3,3.32,3.34,3.36,3.33,3.35,3.37,3.33,3.36,3.34,3.37,3.35,3.33,3.36,3.34,3.36,3.35],
  [0,2.18,3.85,4.54,4.79,4.89,4.95,4.99,5.02,5.0,5.04,5.06,5.03,5.05,5.07,5.04,5.06,5.03,5.05,5.07,5.04,5.06,5.05],
  [0,2.06,3.48,4.12,4.35,4.44,4.49,4.53,4.55,4.58,4.54,4.57,4.59,4.55,4.58,4.56,4.59,4.57,4.55,4.58,4.56,4.59,4.58]
];

// ---- layout ----
const plotTop = 50, plotBottom = 627;
const textStretch = 1.3;   // the source plots were widened, text looks stretched
const colour = d3.scaleOrdinal().domain(containerTypes).range(typeColours);

const svg = d3.select("#chart");

function buildSamples(rowsByType) {
  const out = [];
  containerTypes.forEach((t, ti) => {
    rowsByType[ti].forEach(row => {
      out.push({ type: t, points: row.map((v, i) => ({ depth: depths[i], value: v })) });
    });
  });
  return out;
}

const observedSamples = buildSamples([carboyObserved, pbrObserved, pondObserved, seawaterObserved]);
const shannonSamples = buildSamples([carboyShannon, pbrShannon, pondShannon, seawaterShannon]);

// frame lines round the pasted panels
const frame = svg.append("g").attr("stroke", "#d9d9d9").attr("stroke-width", 1);
frame.append("line").attr("x1", 7).attr("x2", 943.5).attr("y1", 50.5).attr("y2", 50.5);
frame.append("line").attr("x1", 7.5).attr("x2", 7.5).attr("y1", 50).attr("y2", 656);
frame.append("line").attr("x1", 943.5).attr("x2", 943.5).attr("y1", 50).attr("y2", 228);
frame.append("line").attr("x1", 943.5).attr("x2", 943.5).attr("y1", 433).attr("y2", 656);
frame.append("line").attr("x1", 943).attr("x2", 1147).attr("y1", 228.5).attr("y2", 228.5);
frame.append("line").attr("x1", 943).attr("x2", 1147).attr("y1", 432.5).attr("y2", 432.5);

function drawPanel(opts) {
  const x = d3.scaleLinear().domain([-500, 10500]).range([opts.left, opts.right]);
  const y = d3.scaleLinear().domain(opts.yDomain).range([plotBottom, plotTop]);
  const g = svg.append("g").attr("class", "panel");

  g.append("rect")
    .attr("x", opts.left).attr("y", plotTop)
    .attr("width", opts.right - opts.left).attr("height", plotBottom - plotTop)
    .attr("fill", "#EBEBEB");

  // grid
  const grid = g.append("g").attr("stroke", "#fff");
  grid.selectAll(".minor-x").data(xMinor).join("line").attr("class", "minor-x")
    .attr("x1", d => x(d)).attr("x2", d => x(d)).attr("y1", plotTop).attr("y2", plotBottom)
    .attr("stroke-width", 0.55);
  grid.selectAll(".minor-y").data(opts.minor).join("line").attr("class", "minor-y")
    .attr("x1", opts.left).attr("x2", opts.right).attr("y1", d => y(d)).attr("y2", d => y(d))
    .attr("stroke-width", 0.55);
  grid.selectAll(".major-x").data(xTicks).join("line").attr("class", "major-x")
    .attr("x1", d => x(d)).attr("x2", d => x(d)).attr("y1", plotTop).attr("y2", plotBottom)
    .attr("stroke-width", 1.1);
  grid.selectAll(".major-y").data(opts.ticks).join("line").attr("class", "major-y")
    .attr("x1", opts.left).attr("x2", opts.right).attr("y1", d => y(d)).attr("y2", d => y(d))
    .attr("stroke-width", 1.1);

  // rarefaction curves
  const line = d3.line().x(d => x(d.depth)).y(d => y(d.value));
  g.append("g").selectAll("path").data(opts.samples).join("path")
    .attr("d", d => line(d.points))
    .attr("fill", "none")
    .attr("stroke", d => colour(d.type))
    .attr("stroke-width", 1.3);

  g.append("g").selectAll("g").data(opts.samples).join("g")
    .attr("fill", d => colour(d.type))
    .selectAll("ellipse").data(d => d.points).join("ellipse")
    .attr("cx", d => x(d.depth))
    .attr("cy", d => y(d.value))
    .attr("rx", 4.6).attr("ry", 3.7);

  // depth cut-off
  g.append("line")
    .attr("x1", x(rarefyCut)).attr("x2", x(rarefyCut))
    .attr("y1", plotBottom).attr("y2", plotTop)
    .attr("stroke", "#FF0000").attr("stroke-width", 4.2)
    .attr("stroke-dasharray", "15.5,14.4");

  // axes
  const xAxis = g.append("g")
    .attr("transform", `translate(0,${plotBottom})`)
    .call(d3.axisBottom(x).tickValues(xTicks).tickSize(3).tickPadding(2.7).tickFormat(d3.format("d")));
  const yAxis = g.append("g")
    .attr("transform", `translate(${opts.left},0)`)
    .call(d3.axisLeft(y).tickValues(opts.ticks).tickSize(4.3).tickFormat(d3.format("d")));

  [xAxis, yAxis].forEach(ax => {
    ax.select(".domain").remove();
    ax.attr("font-family", "Liberation Sans, Arial, sans-serif").attr("font-size", 9.5);
    ax.selectAll(".tick line").attr("stroke", "#333333").attr("stroke-width", 1.07);
    ax.selectAll(".tick text").attr("fill", "#4D4D4D")
      .attr("transform", `scale(${textStretch},1)`);
  });
  yAxis.selectAll(".tick text").attr("x", -6.3 / textStretch);
}

drawPanel({
  left: 58, right: 486, yDomain: [-43, 922],
  ticks: observedTicks, minor: observedMinor, samples: observedSamples
});
drawPanel({
  left: 507, right: 935, yDomain: [-0.373, 5.447],
  ticks: shannonTicks, minor: shannonMinor, samples: shannonSamples
});

// axis titles
svg.append("text")
  .attr("transform", `translate(24,338) scale(${textStretch},1) rotate(-90)`)
  .attr("text-anchor", "middle")
  .attr("font-size", 11.3)
  .text("Alpha_diversity_mean");
svg.append("text")
  .attr("transform", `translate(497,652) scale(${textStretch},1)`)
  .attr("text-anchor", "middle")
  .attr("font-size", 11.3)
  .text("Depth");

// panel headings
svg.append("text")
  .attr("x", 17).attr("y", 31)
  .attr("font-family", "Lato, 'Open Sans', sans-serif").attr("font-weight", 700).attr("font-size", 26.5)
  .style("white-space", "pre")
  .text("A)  Observed ASVs");
svg.append("text")
  .attr("x", 497).attr("y", 31)
  .attr("font-family", "Lato, 'Open Sans', sans-serif").attr("font-weight", 700).attr("font-size", 26.5)
  .style("white-space", "pre")
  .text("B)  Shannon Diversity");

// legend
const legend = svg.append("g");
legend.append("text")
  .attr("x", 957).attr("y", 261)
  .attr("font-size", 25.5)
  .text("container_type");

const keyRows = legend.selectAll(".key").data(containerTypes).join("g")
  .attr("class", "key")
  .attr("transform", (d, i) => `translate(977.5,${293.3 + i * 35.5})`);
keyRows.append("rect")
  .attr("x", -19.3).attr("y", -16.5).attr("width", 38.6).attr("height", 33)
  .attr("fill", "#F2F2F2");
keyRows.append("line")
  .attr("x1", -16).attr("x2", 16).attr("y1", 0).attr("y2", 0)
  .attr("stroke", d => colour(d)).attr("stroke-width", 2.2);
keyRows.append("line")
  .attr("x1", 0).attr("x2", 0).attr("y1", -15.5).attr("y2", 15.5)
  .attr("stroke", d => colour(d)).attr("stroke-width", 2.2);
keyRows.append("circle")
  .attr("r", 8.7)
  .attr("fill", d => colour(d));
keyRows.append("text")
  .attr("x", 33.5).attr("y", 7.4)
  .attr("font-size", 21)
  .text(d => d);
</script>
</body>
</html>
